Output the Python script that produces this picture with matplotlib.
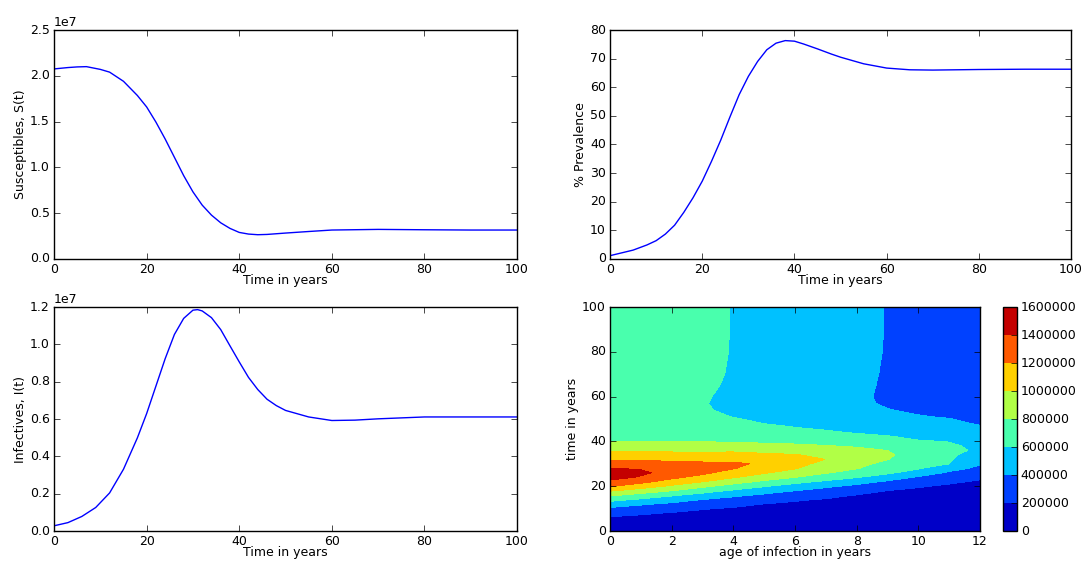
import matplotlib
matplotlib.use("Agg")
import matplotlib.pyplot as plt
import numpy as np

# S(t), prevalence and I(t)
t_s = [0, 3, 5, 7, 10, 12, 15, 18, 20, 22, 24, 26, 28, 30, 32, 34, 36, 38, 40, 42, 44, 46, 50, 55, 60, 70, 80, 90, 100]
susceptibles = [2.075, 2.09, 2.097, 2.10, 2.07, 2.04, 1.94, 1.785, 1.66, 1.495, 1.31, 1.11, 0.91, 0.733, 0.588,
                0.479, 0.395, 0.334, 0.29, 0.272, 0.265, 0.268, 0.283, 0.30, 0.316, 0.323, 0.319, 0.316, 0.316]

t_p = [0, 5, 8, 10, 12, 14, 16, 18, 20, 22, 24, 26, 28, 30, 32, 34, 36, 38, 40, 42, 45, 48, 50, 55, 60, 65, 70, 80, 90, 100]
prevalence = [1.16, 3.1, 4.9, 6.4, 8.7, 11.8, 16.3, 21.4, 27.2, 34.1, 41.5, 49.6, 57.4, 63.8, 69.0, 73.1, 75.4,
              76.3, 76.1, 75.1, 73.4, 71.6, 70.5, 68.2, 66.7, 66.1, 66.0, 66.2, 66.3, 66.3]

t_i = [0, 3, 6, 9, 12, 15, 18, 20, 22, 24, 26, 28, 30, 31, 32, 34, 36, 38, 40, 42, 44, 46, 48, 50, 55, 60, 65, 70, 80, 90, 100]
infectives = [0.028, 0.045, 0.078, 0.126, 0.204, 0.331, 0.499, 0.629, 0.776, 0.923, 1.053, 1.139, 1.183, 1.186,
              1.179, 1.143, 1.079, 0.992, 0.906, 0.823, 0.758, 0.706, 0.672, 0.646, 0.611, 0.592, 0.594, 0.601,
              0.611, 0.611, 0.611]

# infected density, one row per age of infection, one value per time, in units of 1e5
age = [0, 1, 2, 3, 4, 5, 6, 7, 8, 9, 10, 11, 12]
time = [0, 2, 4, 6, 8, 10, 12, 14, 16, 18, 20, 22, 24, 26, 28, 30, 32, 34, 36, 38, 40, 42, 44, 46,
        48, 51, 54, 57, 60, 65, 70, 80, 90, 100]
density = [
    [0.6, 1.02, 1.44, 1.85, 2.65, 3.65, 5.0, 6.58, 8.29, 10.2, 12.14, 13.57, 14.7, 14.83, 14.08, 12.94, 11.78, 10.67, 9.67, 8.83, 7.98, 7.8, 7.65, 7.5,
     7.4, 7.3, 7.2, 7.15, 7.2, 7.3, 7.4, 7.5, 7.5, 7.5],
    [0.5, 0.89, 1.29, 1.68, 2.2, 3.17, 4.22, 5.7, 7.33, 9.09, 10.91, 12.52, 13.81, 14.4, 13.79, 12.77, 11.73, 10.65, 9.67, 8.83, 7.98, 7.75, 7.5, 7.25,
     7.1, 6.95, 6.85, 6.8, 6.82, 6.9, 7.0, 7.1, 7.1, 7.1],
    [0.45, 0.81, 1.17, 1.53, 1.89, 2.67, 3.62, 4.83, 6.26, 8.01, 9.67, 11.23, 12.4, 13.2, 13.23, 12.48, 11.64, 10.62, 9.65, 8.78, 7.96, 7.7, 7.4, 7.1,
     6.85, 6.6, 6.45, 6.4, 6.42, 6.5, 6.6, 6.72, 6.75, 6.75],
    [0.4, 0.73, 1.05, 1.38, 1.71, 2.09, 3.02, 3.95, 5.31, 6.8, 8.4, 10.02, 11.43, 12.38, 13.0, 12.33, 11.52, 10.57, 9.64, 8.76, 7.95, 7.6, 7.25, 6.9,
     6.6, 6.3, 6.1, 6.05, 6.07, 6.15, 6.23, 6.32, 6.34, 6.35],
    [0.35, 0.65, 0.94, 1.24, 1.54, 1.84, 2.42, 3.35, 4.4, 5.73, 7.23, 8.74, 10.16, 11.24, 12.11, 12.27, 11.53, 10.6, 9.67, 8.71, 7.8, 7.45, 7.1, 6.78,
     6.45, 5.97, 5.82, 5.79, 5.84, 5.88, 5.91, 5.94, 5.95, 5.95],
    [0.3, 0.58, 0.85, 1.13, 1.41, 1.68, 1.96, 2.77, 3.68, 4.84, 6.15, 7.63, 9.0, 10.19, 10.97, 11.75, 11.02, 10.29, 9.45, 8.55, 7.65, 7.2, 6.8, 6.4,
     5.98, 5.7, 5.45, 5.4, 5.42, 5.48, 5.52, 5.55, 5.55, 5.55],
    [0.25, 0.51, 0.76, 1.02, 1.27, 1.53, 1.78, 2.14, 3.07, 4.01, 5.21, 6.52, 8.02, 9.14, 10.14, 10.71, 10.7, 10.09, 9.24, 8.36, 7.5, 7.05, 6.55, 6.07,
     5.65, 5.3, 5.08, 5.02, 5.05, 5.1, 5.12, 5.15, 5.15, 5.15],
    [0.2, 0.44, 0.68, 0.92, 1.16, 1.4, 1.64, 1.88, 2.44, 3.33, 4.33, 5.67, 7.0, 8.14, 8.72, 9.3, 9.98, 9.55, 8.78, 8.07, 7.45, 6.85, 6.24, 5.76,
     5.35, 5.0, 4.75, 4.65, 4.65, 4.7, 4.72, 4.75, 4.75, 4.75],
    [0.18, 0.4, 0.62, 0.85, 1.07, 1.29, 1.51, 1.73, 1.95, 2.7, 3.57, 4.71, 6.11, 7.19, 8.11, 8.54, 8.98, 9.13, 8.47, 7.8, 7.15, 6.49, 5.87, 5.4,
     5.0, 4.65, 4.4, 4.25, 4.2, 4.25, 4.3, 4.34, 4.35, 4.35],
    [0.15, 0.36, 0.56, 0.77, 0.97, 1.18, 1.38, 1.59, 1.79, 1.99, 2.85, 3.7, 5.13, 6.29, 6.88, 7.47, 8.05, 8.3, 7.98, 7.38, 6.75, 6.13, 5.66, 5.25,
     4.85, 4.4, 4.05, 3.85, 3.82, 3.85, 3.88, 3.93, 3.95, 3.95],
    [0.12, 0.31, 0.5, 0.69, 0.88, 1.07, 1.26, 1.45, 1.64, 1.83, 2.08, 2.92, 3.75, 5.22, 6.17, 6.47, 6.77, 7.07, 7.17, 6.65, 6.13, 5.7, 5.3, 4.92,
     4.55, 4.08, 3.8, 3.65, 3.58, 3.57, 3.58, 3.6, 3.6, 3.6],
    [0.1, 0.28, 0.45, 0.63, 0.8, 0.98, 1.16, 1.34, 1.51, 1.68, 1.86, 2.15, 2.92, 3.69, 4.77, 6.01, 6.21, 6.4, 6.6, 6.28, 5.95, 5.55, 5.15, 4.75,
     4.35, 3.9, 3.6, 3.45, 3.35, 3.3, 3.3, 3.3, 3.3, 3.3],
    [0.08, 0.24, 0.41, 0.57, 0.73, 0.9, 1.06, 1.22, 1.39, 1.55, 1.71, 1.88, 2.17, 2.86, 3.55, 4.15, 4.56, 4.98, 5.6, 5.55, 5.25, 4.95, 4.58, 4.22,
     3.85, 3.5, 3.3, 3.15, 3.05, 3.0, 3.0, 3.0, 3.0, 3.0],
]
levels = [0, 200000, 400000, 600000, 800000, 1000000, 1200000, 1400000, 1600000]

plt.style.use("classic")
plt.rcParams["font.family"] = "DejaVu Sans"
plt.rcParams["font.size"] = 9
plt.rcParams["xtick.major.pad"] = 3
plt.rcParams["ytick.major.pad"] = 3

fig = plt.figure(figsize=(10.83, 5.63), dpi=100, facecolor="white")

top_b, top_h = 0.540, 0.4067
bot_b, bot_h = 0.0568, 0.3979

ax1 = fig.add_axes([0.0499, top_b, 0.4275, top_h])
ax1.plot(t_s, np.array(susceptibles) * 1e7, color="b")
ax1.set_xlim(0, 100)
ax1.set_ylim(0, 2.5e7)
ax1.set_xlabel("Time in years", labelpad=-1.5)
ax1.set_ylabel("Susceptibles, S(t)", labelpad=2)

ax2 = fig.add_axes([0.5633, top_b, 0.4257, top_h])
ax2.plot(t_p, prevalence, color="b")
ax2.set_xlim(0, 100)
ax2.set_ylim(0, 80)
ax2.set_xlabel("Time in years", labelpad=-1.5)
ax2.set_ylabel("% Prevalence", labelpad=2)

ax3 = fig.add_axes([0.0499, bot_b, 0.4275, bot_h])
ax3.plot(t_i, np.array(infectives) * 1e7, color="b")
ax3.set_xlim(0, 100)
ax3.set_ylim(0, 1.2e7)
ax3.set_xlabel("Time in years", labelpad=-1.5)
ax3.set_ylabel("Infectives, I(t)", labelpad=2)

ax4 = fig.add_axes([0.5633, bot_b, 0.3416, bot_h])
A, T = np.meshgrid(age, time)
Z = np.array(density).T * 1e5
cs = ax4.contourf(A, T, Z, levels=levels, cmap="jet")
ax4.set_xlim(0, 12)
ax4.set_ylim(0, 100)
ax4.set_xlabel("age of infection in years", labelpad=-1.5)
ax4.set_ylabel("time in years", labelpad=2)

cax = fig.add_axes([0.9261, bot_b, 0.0125, bot_h])
fig.colorbar(cs, cax=cax, ticks=levels)

fig.savefig("out.png", dpi=100, facecolor="white")
